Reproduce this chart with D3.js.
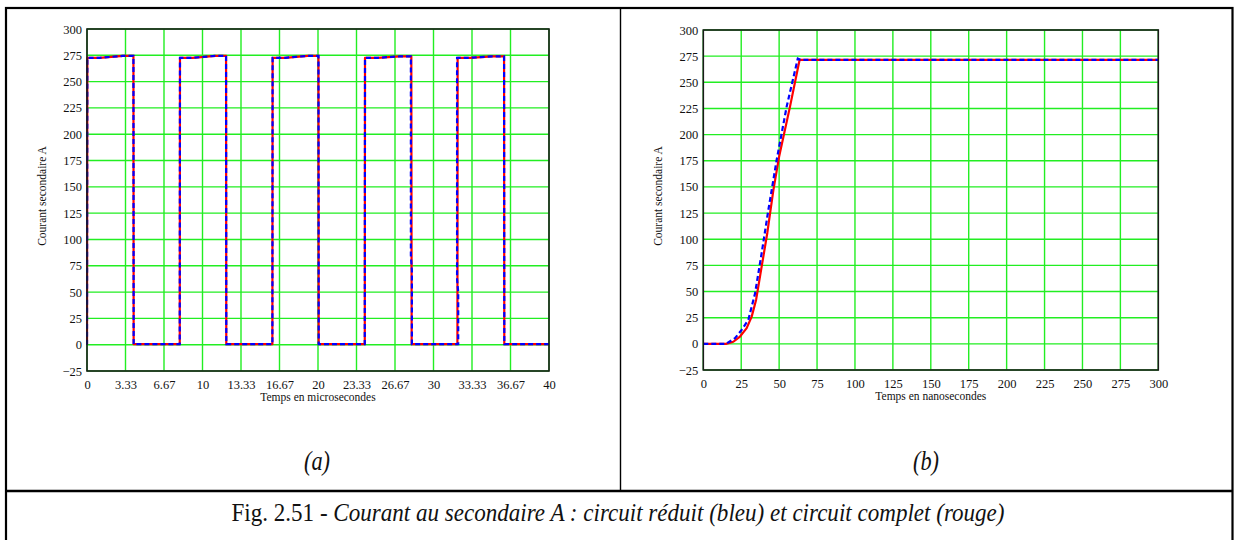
<!DOCTYPE html>
<html><head><meta charset="utf-8">
<script src="https://cdn.jsdelivr.net/npm/d3@7"></script>
<style>body{margin:0;background:#fff}</style>
</head><body>
<svg id="c" width="1234" height="540" xmlns="http://www.w3.org/2000/svg"></svg>
<script>
// ---------- data ----------
const yTicks = [-25, 0, 25, 50, 75, 100, 125, 150, 175, 200, 225, 250, 275, 300];
const xTickLabelsA = ["0","3.33","6.67","10","13.33","16.67","20","23.33","26.67","30","33.33","36.67","40"];
const xTicksA = [0, 3.3333, 6.6667, 10, 13.3333, 16.6667, 20, 23.3333, 26.6667, 30, 33.3333, 36.6667, 40];
const xTicksB = [0, 25, 50, 75, 100, 125, 150, 175, 200, 225, 250, 275, 300];

// (a) square wave, microseconds / amperes — red: complete circuit
const redA_t = [0, 0.03, 1.1, 3.1, 4.02, 4.04, 8.03, 8.05, 9.15, 11.1, 12.04, 12.06, 16.05, 16.07, 17.15, 19.1, 20.04, 20.06, 24.05, 24.07, 25.15, 27.1, 28.08, 28.11, 32.07, 32.09, 33.15, 35.1, 36.11, 36.13, 40];
const redA_v = [0, 272.5, 272.6, 274.5, 274.5, 0.5, 0.5, 272.5, 272.6, 274.5, 274.5, 0.5, 0.5, 272.5, 272.6, 274.5, 274.5, 0.5, 0.5, 272.5, 272.6, 274, 274, 0.5, 0.5, 272.5, 272.6, 274, 274, 0.5, 0.5];
// blue: reduced circuit
const blueA_t = [0, 0.03, 1.1, 3.1, 4.02, 4.04, 8.03, 8.05, 9.15, 11.1, 12.04, 12.06, 16.05, 16.07, 17.15, 19.1, 20.04, 20.06, 24.05, 24.07, 25.15, 27.1, 28.04, 28.04, 28.13, 28.13, 32.14, 32.14, 32.04, 32.04, 33.15, 35.1, 36.11, 36.13, 40];
const blueA_v = [0, 272.5, 272.6, 274.5, 274.5, 0.5, 0.5, 272.5, 272.6, 274.5, 274.5, 0.5, 0.5, 272.5, 272.6, 274.5, 274.5, 0.5, 0.5, 272.5, 272.6, 274, 274, 85, 70, 0.5, 0.5, 50, 62, 272.5, 272.6, 274, 274, 0.5, 0.5];

// (b) rising edge, nanoseconds / amperes
const redB_t = [0, 15, 19.8, 24.2, 28.6, 31.9, 34.8, 38.5, 42.2, 46.2, 50, 57.2, 63.5, 300];
const redB_v = [0, 0, 2, 7, 15, 26, 42, 74, 106, 147, 179, 227, 271.5, 271.5];
const blueB_t = [0, 15, 20.9, 25.3, 29.7, 34.1, 38.5, 42.9, 48.4, 55, 62.3, 64, 300];
const blueB_v = [0, 0, 5.4, 13.4, 23, 48, 87, 128, 176, 227, 272.7, 271.5, 271.5];

// ---------- drawing ----------
const svg = d3.select("#c");
const serif = "Liberation Serif, Times New Roman, serif";
const GRID = "#22ee22";

function panel(cfg) {
  const x = d3.scaleLinear().domain(cfg.xDomain).range([cfg.x0, cfg.x1]);
  const y = d3.scaleLinear().domain([-25, 300]).range([cfg.y1, cfg.y0]);
  const g = svg.append("g");
  const clipId = "clip" + cfg.id;
  svg.append("clipPath").attr("id", clipId).append("rect")
    .attr("x", cfg.x0 - 1).attr("y", cfg.y0).attr("width", cfg.x1 - cfg.x0 + 1).attr("height", cfg.y1 - cfg.y0);

  // grid
  g.selectAll(".gx").data(cfg.xTicks).enter().append("line")
    .attr("x1", d => x(d)).attr("x2", d => x(d)).attr("y1", cfg.y0).attr("y2", cfg.y1)
    .attr("stroke", GRID).attr("stroke-width", 1.4);
  g.selectAll(".gy").data(yTicks).enter().append("line")
    .attr("y1", d => y(d)).attr("y2", d => y(d)).attr("x1", cfg.x0).attr("x2", cfg.x1)
    .attr("stroke", GRID).attr("stroke-width", 1.4);

  // axes labels via d3 axes (no lines)
  const ax = g.append("g").attr("transform", `translate(0,${cfg.y1})`)
    .call(d3.axisBottom(x).tickValues(cfg.xTicks).tickSize(0).tickPadding(9)
      .tickFormat((d, i) => cfg.xLabels[i]));
  ax.select(".domain").remove();
  ax.selectAll("text").attr("font-family", serif).attr("font-size", 12.5).attr("fill", "#111");
  const ay = g.append("g").attr("transform", `translate(${cfg.x0},0)`)
    .call(d3.axisLeft(y).tickValues(yTicks).tickSize(0).tickPadding(5)
      .tickFormat(d => d < 0 ? "\u2212" + Math.abs(d) : String(d)));
  ay.select(".domain").remove();
  ay.selectAll("text").attr("font-family", serif).attr("font-size", 12.5).attr("fill", "#111");

  const line = d3.line().x(d => x(d[0])).y(d => y(d[1]));
  const red = cfg.redT.map((t, i) => [t, cfg.redV[i]]);
  const blue = cfg.blueT.map((t, i) => [t, cfg.blueV[i]]);
  const lg = g.append("g").attr("clip-path", `url(#${clipId})`);
  lg.append("path").attr("d", line(red)).attr("fill", "none").attr("stroke", "#ff0000")
    .attr("stroke-width", 2.2).attr("stroke-linejoin", "round");
  lg.append("path").attr("d", line(blue)).attr("fill", "none").attr("stroke", "#0000ff")
    .attr("stroke-width", 2.2).attr("stroke-dasharray", "5,3");

  // frame
  g.append("rect").attr("x", cfg.x0).attr("y", cfg.y0).attr("width", cfg.x1 - cfg.x0)
    .attr("height", cfg.y1 - cfg.y0).attr("fill", "none").attr("stroke", "#1a1a1a").attr("stroke-width", 1.6);

  // titles
  g.append("text").attr("transform", `translate(${cfg.x0 - 41},${(cfg.y0 + cfg.y1) / 2 - 4}) rotate(-90)`)
    .attr("text-anchor", "middle").attr("font-family", serif).attr("font-size", 11.5).attr("fill", "#111")
    .text("Courant secondaire A");
  g.append("text").attr("x", (cfg.x0 + cfg.x1) / 2).attr("y", cfg.y1 + 30)
    .attr("text-anchor", "middle").attr("font-family", serif).attr("font-size", 11.5).attr("fill", "#111")
    .text(cfg.xTitle);
  g.append("text").attr("x", cfg.subX).attr("y", 470)
    .attr("text-anchor", "middle").attr("font-family", serif).attr("font-style", "italic")
    .attr("font-size", 28).attr("fill", "#111")
    .attr("textLength", 26).attr("lengthAdjust", "spacingAndGlyphs").text(cfg.sub);
}

panel({ id: "a", x0: 87, x1: 549, y0: 29, y1: 371, xDomain: [0, 40], xTicks: xTicksA, xLabels: xTickLabelsA,
  redT: redA_t, redV: redA_v, blueT: blueA_t, blueV: blueA_v, xTitle: "Temps en microsecondes", sub: "(a)", subX: 317 });
panel({ id: "b", x0: 703.3, x1: 1158.3, y0: 30, y1: 370, xDomain: [0, 300], xTicks: xTicksB, xLabels: xTicksB.map(String),
  redT: redB_t, redV: redB_v, blueT: blueB_t, blueV: blueB_v, xTitle: "Temps en nanosecondes", sub: "(b)", subX: 926 });

// outer frame and dividers
svg.append("rect").attr("x", 6).attr("y", 8).attr("width", 1226.5).attr("height", 540)
  .attr("fill", "none").attr("stroke", "#000").attr("stroke-width", 2.2);
svg.append("line").attr("x1", 620.5).attr("x2", 620.5).attr("y1", 8).attr("y2", 491)
  .attr("stroke", "#000").attr("stroke-width", 1.4);
svg.append("line").attr("x1", 6).attr("x2", 1232).attr("y1", 491).attr("y2", 491)
  .attr("stroke", "#000").attr("stroke-width", 2.4);

// caption
const cap = svg.append("text").attr("x", 618).attr("y", 521).attr("text-anchor", "middle")
  .attr("font-family", serif).attr("font-size", 25).attr("fill", "#111");
cap.append("tspan").text("Fig. 2.51 - ");
cap.append("tspan").attr("font-style", "italic")
  .text("Courant au secondaire A : circuit réduit (bleu) et circuit complet (rouge)");
cap.attr("textLength", 773).attr("lengthAdjust", "spacingAndGlyphs");
</script>
</body></html>
